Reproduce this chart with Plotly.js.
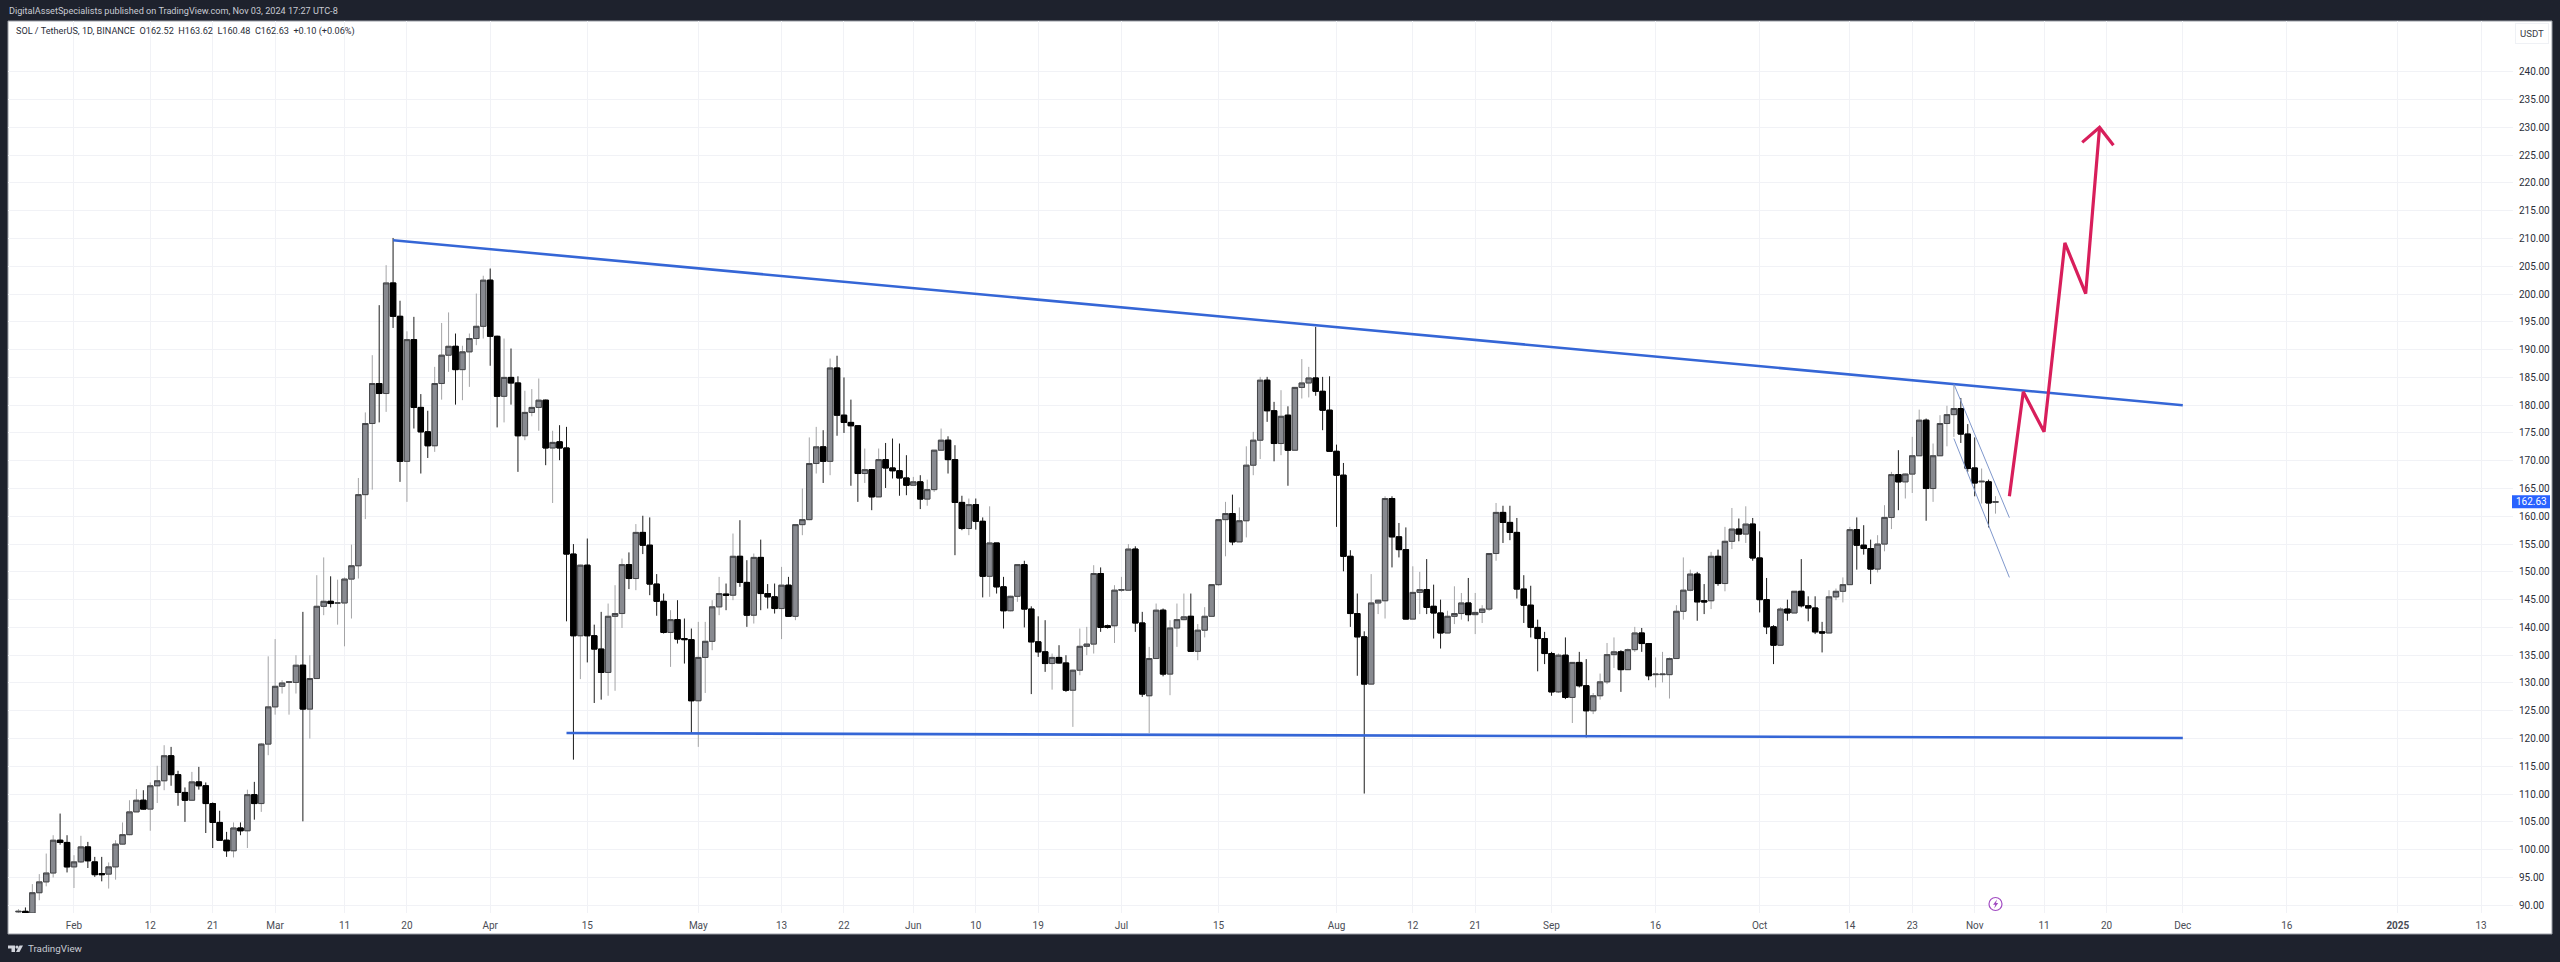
<!DOCTYPE html>
<html>
<head>
<meta charset="utf-8">
<script src="https://cdn.plot.ly/plotly-3.0.1.min.js"></script>
<style>html,body{margin:0;padding:0;background:#1e222d}#chart{width:2560px;height:962px}</style>
</head>
<body>
<div id="chart"></div>
<script>
const firstDay = '2024-01-24';
const opens = [88.8,88.9,88.6,92.25,94.2,95.8,101.7,101.3,
96.9,97.8,100.5,97.8,95.7,95.6,96.9,101,102.7,106.8,
108.9,107.3,111.5,112.4,116.9,113.5,110.3,108.9,112.2,111.5,
108.3,104.9,101.7,99.8,103.9,103.4,109.9,108.3,119,125.7,
129.4,130.1,130.1,133.2,125.3,130.8,143.8,144.7,144.4,144.4,
148.7,151.1,163.9,176.7,183.9,182.1,202,196,169.9,191.8,
179.6,175.2,172.7,183.9,189,190.6,186.4,189.6,192,194.2,
202.5,192.4,181.6,185,184,174.5,178.7,179.6,180.9,172.3,
173.4,172.3,153.2,138.5,151.2,138.5,136.1,131.9,142,142.5,
151.3,148.8,157.1,154.8,147.8,144.7,139.1,141.4,138,137.8,
126.8,134.6,137.5,143.7,146,145.8,152.8,148.1,142.2,152.6,
146.1,145.5,143.4,147.6,142,158.5,159.4,169.5,172.5,169.9,
186.7,178.2,176.9,176.3,167.7,168.4,163.5,170.2,168.7,168.2,
166.9,165.6,166.2,163.1,164.8,171.9,173.7,170.2,162.5,157.8,
162.1,159.1,149.2,155.2,147.3,143,145.6,151.3,143.3,137.4,
135.6,133.5,134.6,133.6,128.7,132.3,136.6,137,149.7,140.3,
140.3,146.7,146.7,154.1,140.8,127.7,134.4,143.1,131.6,139.9,
141.4,142,135.7,139.5,142,147.7,159.4,160.5,155.4,159.2,
169.2,173.7,184.5,179,173.1,178.2,171.9,183.2,184,184.9,
182.5,179.1,171.7,167.4,152.8,142.5,138.3,129.8,144.4,144.8,
163.2,156.3,154,141.5,146.3,146.8,143.8,142.6,139,142,
142.5,144.4,142.3,142.7,143.3,153.3,160.7,158.9,157.1,146.9,
144,140,138,135.3,128.4,135,127.4,133.7,129.5,125,
127.7,130.2,135.1,135.6,132.4,136,139,137.1,131.5,131.5,
131.5,134.4,142.9,146.7,149.6,144.8,144.8,152.8,147.9,155.5,
157.7,156.8,158.6,152.5,145,140.1,136.8,143.3,142.6,146.5,
143.9,143.5,139.2,139,145.5,146.5,147.7,157.6,154.8,154.2,
150.5,155,159.8,167.5,166.2,167.6,170.9,177.3,165,170.9,
176.7,178.3,179.4,174.8,168.7,166.2,166.2,162.52];
const highs = [89.3,89.6,93.8,95.6,99.3,102.6,106.5,102.6,
99,102.5,101.4,98.7,98.7,97.7,101.7,104.9,108.9,110.9,
110.7,112.1,115.1,118.8,118.5,114.2,111.2,114,114.9,112.1,
108.5,107,103.2,104.9,104.9,110.8,112.2,119.2,134.8,137.9,
130.5,130.3,135,142.8,135,149.4,152.6,149.2,148.6,149,
154.9,166.9,178.7,189,198,205.2,210.1,198.8,193.3,195.9,
182,179,186.9,194.8,196.7,192.9,190.7,192.9,200.1,203.3,
204.6,192.5,192,190.2,185.2,182.6,182.9,184.8,181,175.4,
176.4,176.1,155,151.3,156,140.5,142.8,144.3,147.6,152.4,
153.5,158.6,160.1,159.8,149.6,146.1,143.1,144.9,141.6,139.8,
141,141,144.9,149.1,147.9,156.9,159.3,152.1,153.3,155.8,
147.8,147.9,150.9,149.1,158.6,165,174.2,176.1,175.5,188.4,
188.9,185,181,176.3,172.2,168.5,172.2,173.2,174,173.1,
171,167.1,167.4,166.6,171.9,175.8,174.4,172.8,163.7,163.2,
163.2,159.8,161.8,155.2,149.1,145.7,151.3,152,143.8,142,
141.3,135.3,136.8,135,132.4,139.8,140.1,151.2,150.8,140.5,
147.6,149.1,155,154.6,142.8,136.5,144.3,143.4,141.3,144.3,
146.1,146.1,140.6,143.65,147.7,159.4,162.6,163.9,161.6,172.6,
175.2,185.1,185.1,180.6,182.7,179.8,183.2,188.3,186.9,194.1,
185.1,185.2,172.9,169.6,153.9,146.1,139.3,149.6,145,163.6,
163.6,158.8,158,151,150,152.3,147.7,145,143,147.4,
146.2,148.9,146.2,144,153.4,162.4,161.9,161.9,159.7,149.4,
147.5,141.4,139.2,135.6,135.3,138.2,133.7,135.6,134.3,128.2,
131.7,137.2,138.2,135.9,136.2,140.1,139.9,137.2,134.6,135.6,
134.6,144,152.6,150.4,150,147.8,153.6,154,158.1,161.5,
159.6,161.8,159.7,157.3,148.9,140.4,143.6,145,146.5,152.3,
145.6,145.6,141,146.7,147,149,158.1,159.8,158.4,155.8,
156.6,162,168,171.9,167.7,174.3,179.2,177.6,173.1,178.2,
179.9,183.6,181.3,176.6,174.2,168.6,166.6,163.62];
const lows = [88.4,88.4,88.2,90.9,93.4,95,100.9,95.9,
93.1,97.6,96.7,95.1,94.3,93,94.6,100.9,102.6,106.8,
107.2,103.4,108.4,110.7,111.5,107.9,105,108.8,110.8,103,
100.3,101.7,98.7,98.6,102.6,100.3,105.4,106.8,117,124.3,
128.1,124.3,128.1,105.1,120,130.8,142.2,143.6,140.5,136.6,
141.6,148.8,159.5,164.8,176.9,178.8,193.9,166.2,162.6,175.8,
167.7,170.5,171.6,181,186,180.1,180.9,183.3,190.8,192,
187.1,176,176.9,180.1,168,173.7,178,175.4,169.2,162.4,
170.1,141.1,116.2,130.7,133.7,126.4,127,127.7,128.6,139.9,
146.9,146.7,153.2,145.8,142.1,138.9,132.9,137.1,133.5,121,
118.5,128.2,135.9,142.2,143.1,144.9,147.3,140.1,140.7,143.1,
143.4,142.5,137.9,141.9,141.3,156.6,159.3,167.7,166,167.4,
174.5,175,165.5,162.6,166,161.1,163.5,165.1,166.8,163.7,
163.8,165.6,161.3,161.9,164.4,171.9,167.7,153,157.5,156.6,
157.6,145.4,145.5,146.1,139.8,142.9,144.6,140,128,134.7,
132,128.8,133.5,128.4,122.1,131.4,135,135.3,139.2,139.8,
137.2,146.4,146.7,139.2,127.5,121,134.4,131.2,127.8,136.5,
141.3,135.6,134.1,138.2,142,147.5,152.8,154.8,155.4,156.2,
167.4,170.3,177,169.9,171,165.5,171.9,181.2,181.4,181.7,
175.5,171.7,158.1,150.1,140.1,131.3,110.1,129.8,142.4,141.6,
150.8,152.6,141.5,141.5,142.4,142.4,138,136.2,139,140.6,
141.4,141.1,138.8,140.8,143,152,155.2,155.7,145.2,140.8,
138.2,132.1,133.4,127.7,128.2,127.1,122.8,129.2,120.2,124.4,
127,129.8,132.7,128.4,132.4,135.6,135.6,130.5,129.2,130.1,
127.2,134.4,141.4,146.5,141.2,142.4,143.3,147.5,146.5,154.1,
155.5,155.2,152,142.7,138.8,133.4,136.8,141.2,142.6,143.6,
141.1,138.8,135.5,139,144.9,144.5,147.7,150.4,153.1,147.8,
149.9,153.7,157.7,161.1,163.2,164.2,170.9,159.2,162.6,170.9,
172.6,174.3,173.2,168,163.6,162.3,158,160.48];
const closes = [88.9,88.6,92.25,94.2,95.8,101.7,101.3,96.9,
97.8,100.5,98,95.5,95.5,96.9,101,102.7,106.8,108.9,
107.3,111.5,112.4,116.9,113.5,110.3,108.9,112.2,111.5,108.3,
104.9,101.7,99.8,103.9,103.4,109.9,108.3,119,125.7,129.4,
130,130.2,133.2,125.3,130.8,143.8,144.7,144.3,144.4,148.7,
151.1,163.9,176.7,183.9,182.1,202,196,169.9,191.8,179.6,
175.2,172.7,183.9,189,190.6,186.4,189.6,192,194.2,202.5,
192.4,181.6,185,184,174.5,178.7,179.6,180.9,172.3,173.3,
172.3,153.2,138.5,151.2,138.5,136.1,131.9,142,142.5,151.3,
148.8,157.1,154.8,147.8,144.7,139.1,141.4,137.9,137.8,126.8,
134.6,137.5,143.7,146.1,145.8,152.8,148.1,142.2,152.6,146.1,
145.5,143.4,147.6,142,158.5,159.4,169.5,172.5,169.9,186.7,
178.2,176.9,176.3,167.7,168.4,163.5,170.2,168.7,168.2,166.9,
165.6,166.2,163.1,164.8,171.9,173.7,170.2,162.5,157.8,162.1,
159.1,149.2,155.2,147.3,143,145.6,151.3,143.3,137.4,135.6,
133.5,134.6,133.6,128.7,132.3,136.6,137,149.7,140,140,
146.7,146.8,154.1,140.8,128,134.4,143.1,131.6,139.9,141.4,
141.9,135.7,139.5,142,147.7,159.4,160.5,155.4,159.2,169.2,
173.7,184.5,179,173.1,178,171.9,183.2,184,184.9,182.5,
179.1,171.7,167.4,152.8,142.5,138.3,129.8,144.4,144.9,163.2,
156.3,154,141.5,146.3,146.8,143.6,142.6,139,142,142.5,
144.4,142.3,142.7,143.3,153.3,160.7,158.9,157.1,146.9,144,
140,138,135.3,128.4,135,127.4,133.7,129.5,125,127.7,
130.2,135.1,135.6,132.4,136,139,137.1,131.3,131.6,131.6,
134.4,142.9,146.7,149.6,144.6,144.6,152.8,147.9,155.5,157.7,
156.8,158.6,152.5,145,140.1,136.8,143.3,142.6,146.5,143.9,
143.5,139.2,139,145.5,146.5,147.7,157.6,154.8,154.2,150.5,
155,159.8,167.5,166.2,167.6,170.9,177.3,165,170.9,176.7,
178.3,179.4,174.8,168.6,166,166.3,162.4,162.63];

const upperLineDates = ['2024-03-18','2024-12-01'];
const upperLinePrices = [209.7,180];
const lowerLineDates = ['2024-04-12','2024-12-01'];
const lowerLinePrices = [121,120.1];
const channelDates = ['2024-10-29','2024-11-06'];
const channelTopPrices = [183.8,159.75];
const channelBottomPrices = [174,149];
const forecastDates = ['2024-11-06','2024-11-08','2024-11-11','2024-11-14','2024-11-17','2024-11-19'];
const forecastPrices = [163.6,182.4,175.2,209.2,200.1,230];
const arrowDates = ['2024-11-16 12:00','2024-11-19','2024-11-21'];
const arrowPrices = [227.3,230,226.8];

const priceTicks = [90,95,100,105,110,115,120,125,130,135,140,145,150,155,160,165,170,175,180,185,190,195,200,205,210,215,220,225,230,235,240];
const timeTickDates = ['2024-02-01','2024-02-12','2024-02-21','2024-03-01','2024-03-11','2024-03-20','2024-04-01','2024-04-15','2024-05-01','2024-05-13','2024-05-22','2024-06-01','2024-06-10','2024-06-19','2024-07-01','2024-07-15','2024-08-01','2024-08-12','2024-08-21','2024-09-01','2024-09-16','2024-10-01','2024-10-14','2024-10-23','2024-11-01','2024-11-11','2024-11-20','2024-12-01','2024-12-16','2025-01-01','2025-01-13'];
const timeTickLabels = ['Feb','12','21','Mar','11','20','Apr','15','May','13','22','Jun','10','19','Jul','15','Aug','12','21','Sep','16','Oct','14','23','Nov','11','20','Dec','16','<b>2025</b>','13'];

const headerText = 'DigitalAssetSpecialists published on TradingView.com, Nov 03, 2024 17:27 UTC-8';
const legendText = 'SOL / TetherUS, 1D, BINANCE  O162.52  H163.62  L160.48  C162.63  +0.10 (+0.06%)';

const dates = opens.map((_, i) => {
  const d = new Date(Date.parse(firstDay + 'T00:00:00Z') + i * 86400000);
  return d.toISOString().slice(0, 10);
});
const lastClose = closes[closes.length - 1];
const FONT = 'Roboto, sans-serif';
const PL = 8, PR = 2513, PT = 21, PB = 913;
const fx = x => (x - PL) / (PR - PL);
const fy = y => 1 - (y - PT) / (PB - PT);
const pathP = pts => pts.map((p, i) => (i ? 'L' : 'M') + fx(p[0]) + ',' + fy(p[1])).join(' ') + ' Z';

const line = (x, y, color, width, name) => ({
  type: 'scatter', mode: 'lines', x, y, name, hoverinfo: 'skip',
  line: { color, width, shape: 'linear' }, showlegend: false
});

const traces = [
  { type: 'candlestick', x: dates, open: opens, high: highs, low: lows, close: closes, name: 'wicks',
    whiskerwidth: 0, hoverinfo: 'skip', showlegend: false,
    increasing: { line: { color: '#a4a4a6', width: 1 }, fillcolor: '#888a90' },
    decreasing: { line: { color: '#1c1c1c', width: 1 }, fillcolor: '#000000' } },
  { type: 'candlestick', x: dates, open: opens, close: closes,
    high: opens.map((o, i) => Math.max(o, closes[i])), low: opens.map((o, i) => Math.min(o, closes[i])),
    name: 'bodies', whiskerwidth: 0, hoverinfo: 'skip', showlegend: false,
    increasing: { line: { color: '#454649', width: 1 }, fillcolor: '#888a90' },
    decreasing: { line: { color: '#000000', width: 1 }, fillcolor: '#000000' } },
  line(upperLineDates, upperLinePrices, '#3566d6', 2.6, 'upper'),
  line(lowerLineDates, lowerLinePrices, '#3566d6', 2.6, 'lower'),
  line(channelDates, channelTopPrices, '#8098cc', 1, 'channel top'),
  line(channelDates, channelBottomPrices, '#8098cc', 1, 'channel bottom'),
  line(forecastDates, forecastPrices, '#d81e5b', 3.2, 'forecast'),
  line(arrowDates, arrowPrices, '#d81e5b', 3.2, 'arrow')
];

const layout = {
  width: 2560, height: 962, autosize: false,
  margin: { l: PL, r: 2560 - PR, t: PT, b: 962 - PB, pad: 0 },
  paper_bgcolor: '#1e222d', plot_bgcolor: '#ffffff',
  showlegend: false, hovermode: false, dragmode: false,
  boxmode: 'overlay', boxgap: 0.22, boxgroupgap: 0,
  font: { family: FONT, size: 10, color: '#4a4d55' },
  xaxis: {
    type: 'date', range: ['2024-01-22 11:45', '2025-01-17 14:24'],
    rangeslider: { visible: false },
    tickmode: 'array', tickvals: timeTickDates, ticktext: timeTickLabels,
    showgrid: true, gridcolor: '#f1f2f6', gridwidth: 1, zeroline: false, showline: false,
    ticks: '', tickangle: 0, tickfont: { family: FONT, size: 10, color: '#4a4d55' }, ticklabelstandoff: 5
  },
  yaxis: {
    side: 'right', range: [88.6, 249.15], tickmode: 'array', tickvals: priceTicks,
    ticktext: priceTicks.map(v => v.toFixed(2)),
    showgrid: true, gridcolor: '#f1f2f6', gridwidth: 1, zeroline: false, showline: false,
    ticks: '', tickfont: { family: FONT, size: 10, color: '#2a2e39' }, ticklabelstandoff: 5
  },
  shapes: [
    { type: 'rect', layer: 'below', xref: 'paper', yref: 'paper', x0: fx(8), x1: fx(2552), y0: fy(934), y1: fy(21),
      fillcolor: '#ffffff', line: { color: '#9a9da6', width: 1 } },
    { type: 'rect', xref: 'paper', yref: 'y', ysizemode: 'pixel', yanchor: lastClose, y0: -6.5, y1: 6.5,
      x0: fx(2512), x1: fx(2550), fillcolor: '#2962ff', line: { width: 0 } },
    { type: 'path', xref: 'paper', yref: 'paper', fillcolor: '#d1d4dc', line: { width: 0 },
      path: pathP([[8, 945.5], [15, 945.5], [15, 952], [11.5, 952], [11.5, 948.5], [8, 948.5]]) },
    { type: 'circle', xref: 'paper', yref: 'paper', fillcolor: '#d1d4dc', line: { width: 0 },
      x0: fx(15.4), x1: fx(18.6), y0: fy(948.7), y1: fy(945.5) },
    { type: 'path', xref: 'paper', yref: 'paper', fillcolor: '#d1d4dc', line: { width: 0 },
      path: pathP([[19.5, 945.5], [23, 945.5], [19.5, 952], [16, 952]]) },
    { type: 'circle', xref: 'paper', yref: 'paper', fillcolor: '#ffffff', line: { color: '#a24cc2', width: 1.2 },
      x0: fx(1989), x1: fx(2002), y0: fy(910.5), y1: fy(897.5) },
    { type: 'path', xref: 'paper', yref: 'paper', fillcolor: '#a24cc2', line: { width: 0 },
      path: pathP([[1997, 899.5], [1993, 904.8], [1995.2, 904.8], [1994.2, 908.5], [1998.2, 903], [1996, 903]]) }
  ],
  annotations: [
    { xref: 'paper', yref: 'paper', x: fx(7), y: fy(11.5), xanchor: 'left', yanchor: 'middle', showarrow: false,
      text: headerText, font: { family: FONT, size: 9.15, color: '#c8cbd3' } },
    { xref: 'paper', yref: 'paper', x: fx(13.5), y: fy(32), xanchor: 'left', yanchor: 'middle', showarrow: false,
      text: legendText.replace(/  /g, '&nbsp;&nbsp;'), font: { family: FONT, size: 9.15, color: '#2a2e39' } },
    { xref: 'paper', yref: 'paper', x: fx(26), y: fy(949), xanchor: 'left', yanchor: 'middle', showarrow: false,
      text: 'TradingView', font: { family: FONT, size: 9.8, color: '#c8cbd3' } },
    { xref: 'paper', yref: 'paper', x: fx(2531.5), y: fy(33.5), xanchor: 'center', yanchor: 'middle', showarrow: false,
      text: 'USDT', font: { family: FONT, size: 9.6, color: '#3a3d46' }, bordercolor: '#eff1f5', borderwidth: 1, borderpad: 4, bgcolor: '#ffffff' },
    { xref: 'paper', yref: 'y', x: fx(2531), y: lastClose, xanchor: 'center', yanchor: 'middle', showarrow: false,
      text: lastClose.toFixed(2), font: { family: FONT, size: 10, color: '#ffffff' } }
  ]
};
Plotly.newPlot('chart', traces, layout, { displayModeBar: false, staticPlot: true, responsive: false });
</script>
</body>
</html>
